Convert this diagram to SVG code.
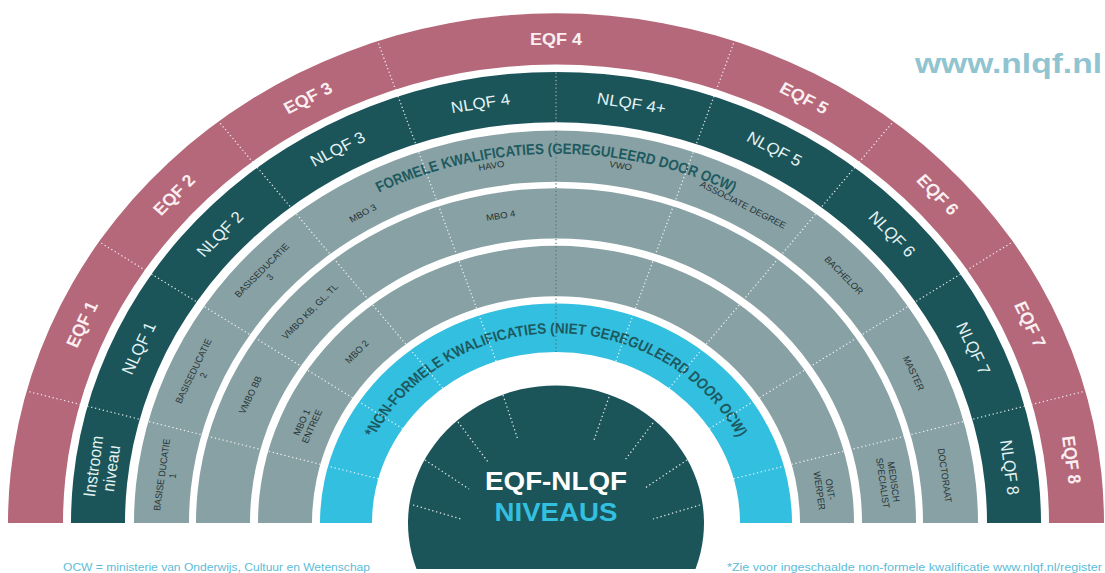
<svg xmlns="http://www.w3.org/2000/svg" width="1105" height="573" viewBox="0 0 1105 573">
<style>
.pink{fill:#b4687a}
.dark{fill:#1b555a}
.gray{fill:#88a1a4}
.cyan{fill:#33bfdf}
.eqf{font-family:"Liberation Sans",Arial,sans-serif;font-size:18px;font-weight:bold;fill:#fbeef1;text-anchor:middle;dominant-baseline:central}
.nlqf{font-family:"Liberation Sans",Arial,sans-serif;font-size:17px;fill:#e3f3f3;text-anchor:middle;dominant-baseline:central}
.lbl{font-family:"Liberation Sans",Arial,sans-serif;font-size:9.5px;fill:#263335;text-anchor:middle;dominant-baseline:central}
.arc{font-family:"Liberation Sans",Arial,sans-serif;font-size:16px;font-weight:bold;fill:#1d5a60}
.dot{stroke:#ffffff;stroke-width:1.3;stroke-dasharray:1.3 2.7;fill:none;opacity:0.85}
.foot{font-family:"Liberation Sans",Arial,sans-serif;font-size:10px;fill:#5dbcd8}
</style>
<defs>
<path id="arcFormal" d="M -304.1 -255.2 A 397 397 0 0 1 304.1 -255.2"/>
<path id="arcNonFormal" d="M -200.9 -35.4 A 204 204 0 0 1 200.9 -35.4"/>
</defs>
<rect width="1105" height="573" fill="#ffffff"/>
<g transform="translate(556,523) scale(1,0.93)">
  <g id="eqf-ring">
    <path class="pink" d="M -548 0 A 548 548 0 0 1 548 0 L 493 0 A 493 493 0 0 0 -493 0 Z"/>
    <text class="eqf" transform="translate(-474.1,-213.6) rotate(-65.75)">EQF 1</text>
    <text class="eqf" transform="translate(-381.8,-353.0) rotate(-47.25)">EQF 2</text>
    <text class="eqf" transform="translate(-248.1,-457.0) rotate(-28.5)">EQF 3</text>
    <text class="eqf" transform="translate(0,-520)">EQF 4</text>
    <text class="eqf" transform="translate(248.1,-457.0) rotate(28.5)">EQF 5</text>
    <text class="eqf" transform="translate(381.8,-353.0) rotate(47.25)">EQF 6</text>
    <text class="eqf" transform="translate(474.1,-213.6) rotate(65.75)">EQF 7</text>
    <text class="eqf" transform="translate(515.5,-67.9) rotate(82.5)">EQF 8</text>
  </g>
  <g id="nlqf-ring">
    <path class="dark" d="M -485 0 A 485 485 0 0 1 485 0 L 431 0 A 431 431 0 0 0 -431 0 Z"/>
    <text class="nlqf" transform="translate(-454.1,-59.8) rotate(-82.5)"><tspan x="0" dy="-9">Instroom</tspan><tspan x="0" dy="18">niveau</tspan></text>
    <text class="nlqf" transform="translate(-417.6,-188.1) rotate(-65.75)">NLQF 1</text>
    <text class="nlqf" transform="translate(-336.3,-310.9) rotate(-47.25)">NLQF 2</text>
    <text class="nlqf" transform="translate(-218.6,-402.5) rotate(-28.5)">NLQF 3</text>
    <text class="nlqf" transform="translate(-75.6,-451.7) rotate(-9.5)">NLQF 4</text>
    <text class="nlqf" transform="translate(75.6,-451.7) rotate(9.5)">NLQF 4+</text>
    <text class="nlqf" transform="translate(218.6,-402.5) rotate(28.5)">NLQF 5</text>
    <text class="nlqf" transform="translate(336.3,-310.9) rotate(47.25)">NLQF 6</text>
    <text class="nlqf" transform="translate(417.6,-188.1) rotate(65.75)">NLQF 7</text>
    <text class="nlqf" transform="translate(454.1,-59.8) rotate(82.5)">NLQF 8</text>
  </g>
  <g id="formal-ring-1">
    <path class="gray" d="M -422 0 A 422 422 0 0 1 422 0 L 367 0 A 367 367 0 0 0 -367 0 Z"/>
    <text class="lbl" transform="translate(-388.6,-51.2) rotate(-82.5)"><tspan x="0" dy="-5.5">BASISE DUCATIE</tspan><tspan x="0" dy="11">1</tspan></text>
    <text class="lbl" transform="translate(-357.4,-161.0) rotate(-65.75)"><tspan x="0" dy="-5.5">BASISEDUCATIE</tspan><tspan x="0" dy="11">2</tspan></text>
    <text class="lbl" transform="translate(-290,-268) rotate(-47.25)"><tspan x="0" dy="-5.5">BASISEDUCATIE</tspan><tspan x="0" dy="11">3</tspan></text>
    <text class="lbl" transform="translate(-193,-333) rotate(-30)">MBO 3</text>
    <text class="lbl" transform="translate(-64.7,-384) rotate(-9.5)">HAVO</text>
    <text class="lbl" transform="translate(64.7,-384) rotate(9.5)">VWO</text>
    <text class="lbl" transform="translate(187.1,-342) rotate(28.5)">ASSOCIATE DEGREE</text>
    <text class="lbl" transform="translate(287.8,-266.1) rotate(47.25)">BACHELOR</text>
    <text class="lbl" transform="translate(357.4,-161.0) rotate(65.75)">MASTER</text>
    <text class="lbl" transform="translate(388.6,-51.2) rotate(82.5)">DOCTORAAT</text>
    <text class="arc"><textPath href="#arcFormal" startOffset="50%" text-anchor="middle" textLength="367" lengthAdjust="spacingAndGlyphs">FORMELE KWALIFICATIES (GEREGULEERD DOOR OCW)</textPath></text>
  </g>
  <g id="formal-ring-2">
    <path class="gray" d="M -360 0 A 360 360 0 0 1 360 0 L 306 0 A 306 306 0 0 0 -306 0 Z"/>
    <text class="lbl" transform="translate(-305.5,-137.6) rotate(-65.75)">VMBO BB</text>
    <text class="lbl" transform="translate(-246.0,-227.4) rotate(-47.25)">VMBO KB, GL, TL</text>
    <text class="lbl" transform="translate(-55.3,-330.4) rotate(-9.5)">MBO 4</text>
    <text class="lbl" transform="translate(332.1,-43.7) rotate(82.5)"><tspan x="0" dy="-5.5">MEDISCH</tspan><tspan x="0" dy="11">SPECIALIST</tspan></text>
  </g>
  <g id="formal-ring-3">
    <path class="gray" d="M -298 0 A 298 298 0 0 1 298 0 L 244 0 A 244 244 0 0 0 -244 0 Z"/>
    <text class="lbl" transform="translate(-249,-106) rotate(-67)"><tspan x="0" dy="-5.5">MBO 1</tspan><tspan x="0" dy="11">ENTREE</tspan></text>
    <text class="lbl" transform="translate(-199.0,-184.0) rotate(-47.25)">MBO 2</text>
    <text class="lbl" transform="translate(268.7,-35.4) rotate(82.5)"><tspan x="0" dy="-5.5">ONT-</tspan><tspan x="0" dy="11">WERPER</tspan></text>
  </g>
  <g id="non-formal-ring">
    <path class="cyan" d="M -236 0 A 236 236 0 0 1 236 0 L 184 0 A 184 184 0 0 0 -184 0 Z"/>
    <text class="arc"><textPath href="#arcNonFormal" startOffset="50%" text-anchor="middle" textLength="450" lengthAdjust="spacingAndGlyphs">*NON-FORMELE KWALIFICATIES (NIET GEREGULEERD DOOR OCW)</textPath></text>
  </g>
  <g id="center">
    <path class="dark" d="M -139.5 49.5 A 148 148 0 1 1 139.5 49.5 Z"/>
  </g>
  <g id="connectors">
    <line class="dot" x1="-177.7" y1="-47.6" x2="-529.3" y2="-141.8"/>
    <line class="dot" x1="-153.4" y1="-101.5" x2="-457.0" y2="-302.4"/>
    <line class="dot" x1="-113.3" y1="-145.0" x2="-337.4" y2="-431.8"/>
    <line class="dot" x1="-59.9" y1="-174.0" x2="-178.4" y2="-518.1"/>
    <line class="dot" x1="59.9" y1="-174.0" x2="178.4" y2="-518.1"/>
    <line class="dot" x1="113.3" y1="-145.0" x2="337.4" y2="-431.8"/>
    <line class="dot" x1="153.4" y1="-101.5" x2="457.0" y2="-302.4"/>
    <line class="dot" x1="177.7" y1="-47.6" x2="529.3" y2="-141.8"/>
    <line class="dot" x1="0" y1="-184" x2="0" y2="-422" style="stroke:#4f7478;opacity:0.9"/>
    <line class="dot" x1="0" y1="-431" x2="0" y2="-485" style="stroke:#c9a9b3"/>
  </g>
</g>
<g id="center-ticks">
  <line class="dot" x1="503" y1="395" x2="518" y2="440"/>
  <line class="dot" x1="458" y1="422" x2="488" y2="462"/>
  <line class="dot" x1="425" y1="460" x2="469" y2="489"/>
  <line class="dot" x1="413" y1="505" x2="461" y2="519"/>
  <line class="dot" x1="609" y1="397" x2="594" y2="440"/>
  <line class="dot" x1="653" y1="423" x2="625" y2="460"/>
  <line class="dot" x1="687" y1="460" x2="645" y2="488"/>
  <line class="dot" x1="700" y1="505" x2="653" y2="519"/>
</g>
<g id="center-title">
  <text x="556" y="490" text-anchor="middle" font-family="Liberation Sans, Arial, sans-serif" font-size="25" font-weight="bold" fill="#ffffff" textLength="142" lengthAdjust="spacingAndGlyphs">EQF-NLQF</text>
  <text x="556" y="521" text-anchor="middle" font-family="Liberation Sans, Arial, sans-serif" font-size="25" font-weight="bold" fill="#33bfdf" textLength="123" lengthAdjust="spacingAndGlyphs">NIVEAUS</text>
</g>
<g id="url">
  <text x="915" y="73" font-family="Liberation Sans, Arial, sans-serif" font-size="28" font-weight="bold" fill="#8fc4d0" textLength="187" lengthAdjust="spacingAndGlyphs">www.nlqf.nl</text>
</g>
<g id="footnotes">
  <text class="foot" x="63" y="571" textLength="307" lengthAdjust="spacingAndGlyphs">OCW = ministerie van Onderwijs, Cultuur en Wetenschap</text>
  <text class="foot" x="727" y="571" textLength="375" lengthAdjust="spacingAndGlyphs">*Zie voor ingeschaalde non-formele kwalificatie www.nlqf.nl/register</text>
</g>
</svg>
